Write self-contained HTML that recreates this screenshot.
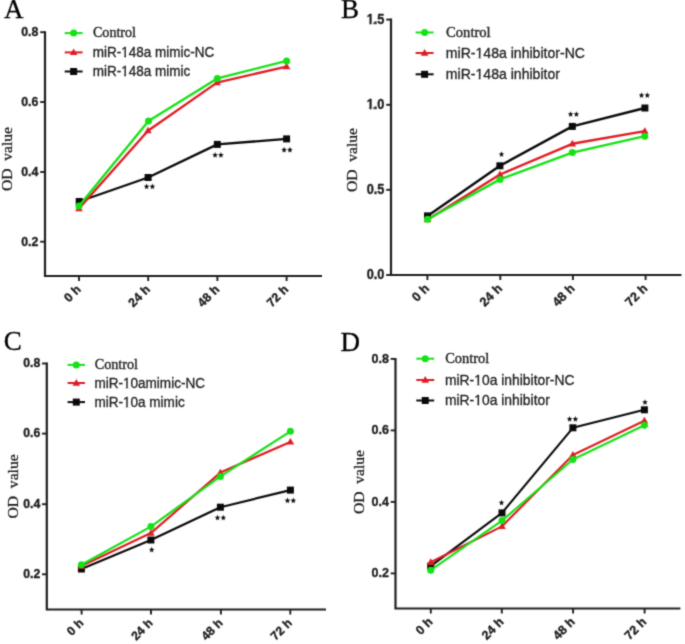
<!DOCTYPE html>
<html><head><meta charset="utf-8"><style>
html,body{margin:0;padding:0;background:#fff;}
svg{display:block;}
text{stroke-linejoin:round;}
.pl{font-family:"Liberation Serif",serif;font-size:27px;fill:#000;stroke:#000;stroke-width:0.3px;}
.ax{fill:none;stroke:#1e1e1e;stroke-width:2.2;}
.tk{fill:none;stroke:#1e1e1e;stroke-width:1.9;}
.yt,.xt{font-family:"Liberation Sans",sans-serif;font-weight:bold;font-size:12.2px;fill:#1e1e1e;stroke:#1e1e1e;stroke-width:0.35px;text-anchor:end;}
.od{font-family:"Liberation Serif",serif;font-size:15px;fill:#161616;stroke:#161616;stroke-width:0.25px;text-anchor:middle;}
.lc{font-family:"Liberation Serif",serif;fill:#262626;stroke:#262626;stroke-width:0.4px;}
.ls{font-family:"Liberation Sans",sans-serif;fill:#222;stroke:#222;stroke-width:0.3px;}
</style></head><body>
<svg width="685" height="644" viewBox="0 0 685 644">
<defs><filter id="bl" x="0" y="0" width="1" height="1" color-interpolation-filters="sRGB"><feConvolveMatrix order="3" kernelMatrix="0.02768 0.11101 0.02768 0.11101 0.44521 0.11101 0.02768 0.11101 0.02768" edgeMode="duplicate"/></filter></defs>
<rect width="685" height="644" fill="#fff"/>
<g filter="url(#bl)">
<rect width="685" height="644" fill="#fff"/>
<text x="3.9" y="18.4" class="pl">A</text>
<path d="M45 31.2V276H322" class="ax"/>
<path d="M40.2 32.2H45" class="tk"/>
<text transform="translate(38.4,36) scale(1,1.08)" class="yt" style="font-size:12.35px">0.8</text>
<path d="M40.2 102H45" class="tk"/>
<text transform="translate(38.4,105.8) scale(1,1.08)" class="yt" style="font-size:12.35px">0.6</text>
<path d="M40.2 172H45" class="tk"/>
<text transform="translate(38.4,175.8) scale(1,1.08)" class="yt" style="font-size:12.35px">0.4</text>
<path d="M40.2 241.7H45" class="tk"/>
<text transform="translate(38.4,245.5) scale(1,1.08)" class="yt" style="font-size:12.35px">0.2</text>
<path d="M79 276V281" class="tk"/>
<text transform="translate(81.6,290.2) scale(1,1.0) rotate(-45)" class="xt" style="font-size:12.35px">0 h</text>
<path d="M148.2 276V281" class="tk"/>
<text transform="translate(150.8,290.2) scale(1,1.0) rotate(-45)" class="xt" style="font-size:12.35px">24 h</text>
<path d="M217.4 276V281" class="tk"/>
<text transform="translate(220,290.2) scale(1,1.0) rotate(-45)" class="xt" style="font-size:12.35px">48 h</text>
<path d="M286.6 276V281" class="tk"/>
<text transform="translate(289.2,290.2) scale(1,1.0) rotate(-45)" class="xt" style="font-size:12.35px">72 h</text>
<text transform="translate(12.2,159) scale(1,1.04) rotate(-90)" class="od">OD&#160;&#160;value</text>
<path d="M79.2 201.5 L148.1 177.5 L217.3 144.4 L286.6 138.9" fill="none" stroke="#0a0a0a" stroke-width="2.35" stroke-linejoin="round"/>
<rect x="75.7" y="198" width="7" height="7" fill="#0a0a0a"/>
<rect x="144.6" y="174" width="7" height="7" fill="#0a0a0a"/>
<rect x="213.8" y="140.9" width="7" height="7" fill="#0a0a0a"/>
<rect x="283.1" y="135.4" width="7" height="7" fill="#0a0a0a"/>
<path d="M79 208.5 L148 130.7 L217 82.6 L286.6 66.6" fill="none" stroke="#e01c24" stroke-width="2.35" stroke-linejoin="round"/>
<polygon points="79,204.53 82.8,211.14 75.2,211.14" fill="#e01c24"/>
<polygon points="148,126.73 151.8,133.34 144.2,133.34" fill="#e01c24"/>
<polygon points="217,78.63 220.8,85.24 213.2,85.24" fill="#e01c24"/>
<polygon points="286.6,62.63 290.4,69.24 282.8,69.24" fill="#e01c24"/>
<path d="M79 206 L148.5 121 L217.3 78.4 L286.6 60.9" fill="none" stroke="#14e214" stroke-width="2.35" stroke-linejoin="round"/>
<ellipse cx="79" cy="206" rx="3.5" ry="3.5" fill="#14e214"/>
<ellipse cx="148.5" cy="121" rx="3.5" ry="3.5" fill="#14e214"/>
<ellipse cx="217.3" cy="78.4" rx="3.5" ry="3.5" fill="#14e214"/>
<ellipse cx="286.6" cy="60.9" rx="3.5" ry="3.5" fill="#14e214"/>
<polygon points="146.6,183.57 147.36,185.56 149.36,185.73 147.84,187.13 148.3,189.23 146.6,188.1 144.9,189.23 145.36,187.13 143.84,185.73 145.84,185.56" fill="#111"/>
<polygon points="152.4,183.57 153.16,185.56 155.16,185.73 153.64,187.13 154.1,189.23 152.4,188.1 150.7,189.23 151.16,187.13 149.64,185.73 151.64,185.56" fill="#111"/>
<polygon points="215.1,152.07 215.86,154.06 217.86,154.23 216.34,155.63 216.8,157.73 215.1,156.6 213.4,157.73 213.86,155.63 212.34,154.23 214.34,154.06" fill="#111"/>
<polygon points="220.9,152.07 221.66,154.06 223.66,154.23 222.14,155.63 222.6,157.73 220.9,156.6 219.2,157.73 219.66,155.63 218.14,154.23 220.14,154.06" fill="#111"/>
<polygon points="284.1,146.87 284.86,148.86 286.86,149.03 285.34,150.43 285.8,152.53 284.1,151.4 282.4,152.53 282.86,150.43 281.34,149.03 283.34,148.86" fill="#111"/>
<polygon points="289.9,146.87 290.66,148.86 292.66,149.03 291.14,150.43 291.6,152.53 289.9,151.4 288.2,152.53 288.66,150.43 287.14,149.03 289.14,148.86" fill="#111"/>
<path d="M64.7 33.1H82.6" stroke="#14e214" stroke-width="2"/>
<ellipse cx="73.65" cy="33.1" rx="3.5" ry="3.5" fill="#14e214"/>
<text transform="translate(93,37.4) scale(1,1.04)" class="lc" style="font-size:14.05px">Control</text>
<path d="M64.7 52.4H82.6" stroke="#e01c24" stroke-width="2"/>
<polygon points="73.65,48.43 77.45,55.04 69.85,55.04" fill="#e01c24"/>
<text transform="translate(92.7,56.9) scale(1,1.08)" class="ls" style="font-size:13.5px">miR-148a mimic-NC</text>
<rect transform="translate(92.7,56.9) scale(1,1.08)" x="28.49" y="-1.62" width="3.07" height="2.62" fill="#fff"/><rect transform="translate(92.7,56.9) scale(1,1.08)" x="33.3" y="-1.62" width="2.94" height="2.62" fill="#fff"/>
<path d="M64.7 71.5H82.6" stroke="#0a0a0a" stroke-width="2"/>
<rect x="70.15" y="68" width="7" height="7" fill="#0a0a0a"/>
<text transform="translate(92.7,76) scale(1,1.08)" class="ls" style="font-size:13.5px">miR-148a mimic</text>
<rect transform="translate(92.7,76) scale(1,1.08)" x="28.49" y="-1.62" width="3.07" height="2.62" fill="#fff"/><rect transform="translate(92.7,76) scale(1,1.08)" x="33.3" y="-1.62" width="2.94" height="2.62" fill="#fff"/>
<text x="341.1" y="18.0" class="pl">B</text>
<path d="M391 18.6V275H681.5" class="ax"/>
<path d="M386.2 19.6H391" class="tk"/>
<text transform="translate(384.4,23.9) scale(1,1.08)" class="yt" style="font-size:12.75px">1.5</text>
<rect transform="translate(384.4,23.9) scale(1,1.08)" x="-17.88" y="-1.78" width="2.87" height="2.78" fill="#fff"/><rect transform="translate(384.4,23.9) scale(1,1.08)" x="-12.78" y="-1.78" width="1.43" height="2.78" fill="#fff"/>
<path d="M386.2 104.8H391" class="tk"/>
<text transform="translate(384.4,109.1) scale(1,1.08)" class="yt" style="font-size:12.75px">1.0</text>
<rect transform="translate(384.4,109.1) scale(1,1.08)" x="-17.88" y="-1.78" width="2.87" height="2.78" fill="#fff"/><rect transform="translate(384.4,109.1) scale(1,1.08)" x="-12.78" y="-1.78" width="1.43" height="2.78" fill="#fff"/>
<path d="M386.2 189.8H391" class="tk"/>
<text transform="translate(384.4,194.1) scale(1,1.08)" class="yt" style="font-size:12.75px">0.5</text>
<path d="M386.2 275H391" class="tk"/>
<text transform="translate(384.4,279.3) scale(1,1.08)" class="yt" style="font-size:12.75px">0.0</text>
<path d="M427.4 275V280" class="tk"/>
<text transform="translate(430,289.2) scale(1,1.0) rotate(-45)" class="xt" style="font-size:12.75px">0 h</text>
<path d="M500.3 275V280" class="tk"/>
<text transform="translate(502.9,289.2) scale(1,1.0) rotate(-45)" class="xt" style="font-size:12.75px">24 h</text>
<path d="M572.9 275V280" class="tk"/>
<text transform="translate(575.5,289.2) scale(1,1.0) rotate(-45)" class="xt" style="font-size:12.75px">48 h</text>
<path d="M645.6 275V280" class="tk"/>
<text transform="translate(648.2,289.2) scale(1,1.0) rotate(-45)" class="xt" style="font-size:12.75px">72 h</text>
<text transform="translate(357.1,160) scale(1,1.04) rotate(-90)" class="od">OD&#160;&#160;value</text>
<path d="M427.5 215.9 L499.9 165.8 L572.3 126.4 L644.9 108" fill="none" stroke="#0a0a0a" stroke-width="2.4" stroke-linejoin="round"/>
<rect x="424" y="212.4" width="7" height="7" fill="#0a0a0a"/>
<rect x="496.4" y="162.3" width="7" height="7" fill="#0a0a0a"/>
<rect x="568.8" y="122.9" width="7" height="7" fill="#0a0a0a"/>
<rect x="641.4" y="104.5" width="7" height="7" fill="#0a0a0a"/>
<path d="M427.5 219.7 L500 174.5 L572.3 143.8 L644.8 131.1" fill="none" stroke="#e01c24" stroke-width="2.4" stroke-linejoin="round"/>
<polygon points="427.5,215.73 431.3,222.34 423.7,222.34" fill="#e01c24"/>
<polygon points="500,170.53 503.8,177.14 496.2,177.14" fill="#e01c24"/>
<polygon points="572.3,139.83 576.1,146.44 568.5,146.44" fill="#e01c24"/>
<polygon points="644.8,127.13 648.6,133.74 641,133.74" fill="#e01c24"/>
<path d="M427.5 219.2 L500 179.4 L572.3 152.6 L644.8 136.2" fill="none" stroke="#14e214" stroke-width="2.4" stroke-linejoin="round"/>
<ellipse cx="427.5" cy="219.2" rx="3.5" ry="3.5" fill="#14e214"/>
<ellipse cx="500" cy="179.4" rx="3.5" ry="3.5" fill="#14e214"/>
<ellipse cx="572.3" cy="152.6" rx="3.5" ry="3.5" fill="#14e214"/>
<ellipse cx="644.8" cy="136.2" rx="3.5" ry="3.5" fill="#14e214"/>
<polygon points="501.5,151.27 502.26,153.26 504.26,153.43 502.74,154.83 503.2,156.93 501.5,155.8 499.8,156.93 500.26,154.83 498.74,153.43 500.74,153.26" fill="#111"/>
<polygon points="570.6,111.17 571.36,113.16 573.36,113.33 571.84,114.73 572.3,116.83 570.6,115.7 568.9,116.83 569.36,114.73 567.84,113.33 569.84,113.16" fill="#111"/>
<polygon points="576.4,111.17 577.16,113.16 579.16,113.33 577.64,114.73 578.1,116.83 576.4,115.7 574.7,116.83 575.16,114.73 573.64,113.33 575.64,113.16" fill="#111"/>
<polygon points="641.5,92.27 642.26,94.26 644.26,94.43 642.74,95.83 643.2,97.93 641.5,96.8 639.8,97.93 640.26,95.83 638.74,94.43 640.74,94.26" fill="#111"/>
<polygon points="647.3,92.27 648.06,94.26 650.06,94.43 648.54,95.83 649,97.93 647.3,96.8 645.6,97.93 646.06,95.83 644.54,94.43 646.54,94.26" fill="#111"/>
<path d="M415.6 32.5H433.6" stroke="#14e214" stroke-width="2"/>
<ellipse cx="424.6" cy="32.5" rx="3.5" ry="3.5" fill="#14e214"/>
<text transform="translate(446.1,36.8) scale(1,1.04)" class="lc" style="font-size:14.6px">Control</text>
<path d="M415.6 53H433.6" stroke="#e01c24" stroke-width="2"/>
<polygon points="424.6,49.03 428.4,55.64 420.8,55.64" fill="#e01c24"/>
<text transform="translate(445.8,57.5) scale(1,1.08)" class="ls" style="font-size:14.08px">miR-148a inhibitor-NC</text>
<rect transform="translate(445.8,57.5) scale(1,1.08)" x="29.75" y="-1.69" width="3.19" height="2.69" fill="#fff"/><rect transform="translate(445.8,57.5) scale(1,1.08)" x="34.72" y="-1.69" width="3.04" height="2.69" fill="#fff"/>
<path d="M415.6 74.3H433.6" stroke="#0a0a0a" stroke-width="2"/>
<rect x="421.1" y="70.8" width="7" height="7" fill="#0a0a0a"/>
<text transform="translate(445.8,78.8) scale(1,1.08)" class="ls" style="font-size:14.08px">miR-148a inhibitor</text>
<rect transform="translate(445.8,78.8) scale(1,1.08)" x="29.75" y="-1.69" width="3.19" height="2.69" fill="#fff"/><rect transform="translate(445.8,78.8) scale(1,1.08)" x="34.72" y="-1.69" width="3.04" height="2.69" fill="#fff"/>
<text x="3.7" y="350.3" class="pl">C</text>
<path d="M46.8 362.5V609.5H326" class="ax"/>
<path d="M42 363.5H46.8" class="tk"/>
<text transform="translate(40.2,367.3) scale(1,1.08)" class="yt" style="font-size:12.26px">0.8</text>
<path d="M42 433.6H46.8" class="tk"/>
<text transform="translate(40.2,437.4) scale(1,1.08)" class="yt" style="font-size:12.26px">0.6</text>
<path d="M42 504.2H46.8" class="tk"/>
<text transform="translate(40.2,508) scale(1,1.08)" class="yt" style="font-size:12.26px">0.4</text>
<path d="M42 574.3H46.8" class="tk"/>
<text transform="translate(40.2,578.1) scale(1,1.08)" class="yt" style="font-size:12.26px">0.2</text>
<path d="M81.6 609.5V614.5" class="tk"/>
<text transform="translate(84.2,623.7) scale(1,1.0) rotate(-45)" class="xt" style="font-size:12.26px">0 h</text>
<path d="M151 609.5V614.5" class="tk"/>
<text transform="translate(153.6,623.7) scale(1,1.0) rotate(-45)" class="xt" style="font-size:12.26px">24 h</text>
<path d="M220.9 609.5V614.5" class="tk"/>
<text transform="translate(223.5,623.7) scale(1,1.0) rotate(-45)" class="xt" style="font-size:12.26px">48 h</text>
<path d="M290.3 609.5V614.5" class="tk"/>
<text transform="translate(292.9,623.7) scale(1,1.0) rotate(-45)" class="xt" style="font-size:12.26px">72 h</text>
<text transform="translate(17.8,486.4) scale(1,1.04) rotate(-90)" class="od">OD&#160;&#160;value</text>
<path d="M81.4 569 L150.9 540 L220.4 507.2 L290.4 490.1" fill="none" stroke="#0a0a0a" stroke-width="2.2" stroke-linejoin="round"/>
<rect x="77.9" y="565.5" width="7" height="7" fill="#0a0a0a"/>
<rect x="147.4" y="536.5" width="7" height="7" fill="#0a0a0a"/>
<rect x="216.9" y="503.7" width="7" height="7" fill="#0a0a0a"/>
<rect x="286.9" y="486.6" width="7" height="7" fill="#0a0a0a"/>
<path d="M81.4 566 L150.9 533.1 L220.4 472.6 L290.4 441.9" fill="none" stroke="#e01c24" stroke-width="2.2" stroke-linejoin="round"/>
<polygon points="81.4,562.03 85.2,568.64 77.6,568.64" fill="#e01c24"/>
<polygon points="150.9,529.13 154.7,535.74 147.1,535.74" fill="#e01c24"/>
<polygon points="220.4,468.63 224.2,475.24 216.6,475.24" fill="#e01c24"/>
<polygon points="290.4,437.93 294.2,444.54 286.6,444.54" fill="#e01c24"/>
<path d="M81.4 564.8 L150.9 526.6 L220.4 476.4 L290.4 431.3" fill="none" stroke="#14e214" stroke-width="2.2" stroke-linejoin="round"/>
<ellipse cx="81.4" cy="564.8" rx="3.5" ry="3.5" fill="#14e214"/>
<ellipse cx="150.9" cy="526.6" rx="3.5" ry="3.5" fill="#14e214"/>
<ellipse cx="220.4" cy="476.4" rx="3.5" ry="3.5" fill="#14e214"/>
<ellipse cx="290.4" cy="431.3" rx="3.5" ry="3.5" fill="#14e214"/>
<polygon points="151.7,546.77 152.46,548.76 154.46,548.93 152.94,550.33 153.4,552.43 151.7,551.3 150,552.43 150.46,550.33 148.94,548.93 150.94,548.76" fill="#111"/>
<polygon points="217.5,514.67 218.26,516.66 220.26,516.83 218.74,518.23 219.2,520.33 217.5,519.2 215.8,520.33 216.26,518.23 214.74,516.83 216.74,516.66" fill="#111"/>
<polygon points="223.3,514.67 224.06,516.66 226.06,516.83 224.54,518.23 225,520.33 223.3,519.2 221.6,520.33 222.06,518.23 220.54,516.83 222.54,516.66" fill="#111"/>
<polygon points="287.5,497.57 288.26,499.56 290.26,499.73 288.74,501.13 289.2,503.23 287.5,502.1 285.8,503.23 286.26,501.13 284.74,499.73 286.74,499.56" fill="#111"/>
<polygon points="293.3,497.57 294.06,499.56 296.06,499.73 294.54,501.13 295,503.23 293.3,502.1 291.6,503.23 292.06,501.13 290.54,499.73 292.54,499.56" fill="#111"/>
<path d="M67.6 364.9H85" stroke="#14e214" stroke-width="2"/>
<ellipse cx="76.3" cy="364.9" rx="3.5" ry="3.5" fill="#14e214"/>
<text transform="translate(94.7,369.2) scale(1,1.04)" class="lc" style="font-size:14.2px">Control</text>
<path d="M67.6 383H85" stroke="#e01c24" stroke-width="2"/>
<polygon points="76.3,379.03 80.1,385.64 72.5,385.64" fill="#e01c24"/>
<text transform="translate(94.4,387.5) scale(1,1.08)" class="ls" style="font-size:13.55px">miR-10amimic-NC</text>
<rect transform="translate(94.4,387.5) scale(1,1.08)" x="28.6" y="-1.63" width="3.08" height="2.63" fill="#fff"/><rect transform="translate(94.4,387.5) scale(1,1.08)" x="33.42" y="-1.63" width="2.95" height="2.63" fill="#fff"/>
<path d="M67.6 402.1H85" stroke="#0a0a0a" stroke-width="2"/>
<rect x="72.8" y="398.6" width="7" height="7" fill="#0a0a0a"/>
<text transform="translate(94.4,406.6) scale(1,1.08)" class="ls" style="font-size:13.55px">miR-10a mimic</text>
<rect transform="translate(94.4,406.6) scale(1,1.08)" x="28.6" y="-1.63" width="3.08" height="2.63" fill="#fff"/><rect transform="translate(94.4,406.6) scale(1,1.08)" x="33.42" y="-1.63" width="2.95" height="2.63" fill="#fff"/>
<text x="340.5" y="350.8" class="pl">D</text>
<path d="M395.5 357.9V608.5H680.4" class="ax"/>
<path d="M390.7 358.9H395.5" class="tk"/>
<text transform="translate(388.9,362.7) scale(1,1.08)" class="yt" style="font-size:12.5px">0.8</text>
<path d="M390.7 430.4H395.5" class="tk"/>
<text transform="translate(388.9,434.2) scale(1,1.08)" class="yt" style="font-size:12.5px">0.6</text>
<path d="M390.7 501.9H395.5" class="tk"/>
<text transform="translate(388.9,505.7) scale(1,1.08)" class="yt" style="font-size:12.5px">0.4</text>
<path d="M390.7 573.4H395.5" class="tk"/>
<text transform="translate(388.9,577.2) scale(1,1.08)" class="yt" style="font-size:12.5px">0.2</text>
<path d="M430.8 608.5V613.5" class="tk"/>
<text transform="translate(433.4,622.7) scale(1,1.0) rotate(-45)" class="xt" style="font-size:12.5px">0 h</text>
<path d="M501.8 608.5V613.5" class="tk"/>
<text transform="translate(504.4,622.7) scale(1,1.0) rotate(-45)" class="xt" style="font-size:12.5px">24 h</text>
<path d="M573.1 608.5V613.5" class="tk"/>
<text transform="translate(575.7,622.7) scale(1,1.0) rotate(-45)" class="xt" style="font-size:12.5px">48 h</text>
<path d="M644.6 608.5V613.5" class="tk"/>
<text transform="translate(647.2,622.7) scale(1,1.0) rotate(-45)" class="xt" style="font-size:12.5px">72 h</text>
<text transform="translate(363.8,482) scale(1,1.04) rotate(-90)" class="od">OD&#160;&#160;value</text>
<path d="M430.7 566.2 L502 512.9 L572.9 427.8 L644.4 409.8" fill="none" stroke="#0a0a0a" stroke-width="2.1" stroke-linejoin="round"/>
<rect x="427.2" y="562.7" width="7" height="7" fill="#0a0a0a"/>
<rect x="498.5" y="509.4" width="7" height="7" fill="#0a0a0a"/>
<rect x="569.4" y="424.3" width="7" height="7" fill="#0a0a0a"/>
<rect x="640.9" y="406.3" width="7" height="7" fill="#0a0a0a"/>
<path d="M430.7 562.3 L502 526.4 L572.9 455 L644.4 420.7" fill="none" stroke="#e01c24" stroke-width="2.1" stroke-linejoin="round"/>
<polygon points="430.7,558.33 434.5,564.94 426.9,564.94" fill="#e01c24"/>
<polygon points="502,522.43 505.8,529.04 498.2,529.04" fill="#e01c24"/>
<polygon points="572.9,451.03 576.7,457.64 569.1,457.64" fill="#e01c24"/>
<polygon points="644.4,416.73 648.2,423.34 640.6,423.34" fill="#e01c24"/>
<path d="M430.7 570.2 L502 520.6 L572.9 459.5 L644.4 425.2" fill="none" stroke="#14e214" stroke-width="2.1" stroke-linejoin="round"/>
<ellipse cx="430.7" cy="570.2" rx="3.5" ry="3.5" fill="#14e214"/>
<ellipse cx="502" cy="520.6" rx="3.5" ry="3.5" fill="#14e214"/>
<ellipse cx="572.9" cy="459.5" rx="3.5" ry="3.5" fill="#14e214"/>
<ellipse cx="644.4" cy="425.2" rx="3.5" ry="3.5" fill="#14e214"/>
<polygon points="501.5,499.67 502.26,501.66 504.26,501.83 502.74,503.23 503.2,505.33 501.5,504.2 499.8,505.33 500.26,503.23 498.74,501.83 500.74,501.66" fill="#111"/>
<polygon points="569.6,416.07 570.36,418.06 572.36,418.23 570.84,419.63 571.3,421.73 569.6,420.6 567.9,421.73 568.36,419.63 566.84,418.23 568.84,418.06" fill="#111"/>
<polygon points="575.4,416.07 576.16,418.06 578.16,418.23 576.64,419.63 577.1,421.73 575.4,420.6 573.7,421.73 574.16,419.63 572.64,418.23 574.64,418.06" fill="#111"/>
<polygon points="645,399.17 645.76,401.16 647.76,401.33 646.24,402.73 646.7,404.83 645,403.7 643.3,404.83 643.76,402.73 642.24,401.33 644.24,401.16" fill="#111"/>
<path d="M416.3 358.7H434.2" stroke="#14e214" stroke-width="2"/>
<ellipse cx="425.25" cy="358.7" rx="3.5" ry="3.5" fill="#14e214"/>
<text transform="translate(445.2,363) scale(1,1.04)" class="lc" style="font-size:14.45px">Control</text>
<path d="M416.3 380H434.2" stroke="#e01c24" stroke-width="2"/>
<polygon points="425.25,376.03 429.05,382.64 421.45,382.64" fill="#e01c24"/>
<text transform="translate(444.9,384.5) scale(1,1.08)" class="ls" style="font-size:13.9px">miR-10a inhibitor-NC</text>
<rect transform="translate(444.9,384.5) scale(1,1.08)" x="29.36" y="-1.67" width="3.15" height="2.67" fill="#fff"/><rect transform="translate(444.9,384.5) scale(1,1.08)" x="34.28" y="-1.67" width="3.01" height="2.67" fill="#fff"/>
<path d="M416.3 400.5H434.2" stroke="#0a0a0a" stroke-width="2"/>
<rect x="421.75" y="397" width="7" height="7" fill="#0a0a0a"/>
<text transform="translate(444.9,405) scale(1,1.08)" class="ls" style="font-size:13.9px">miR-10a inhibitor</text>
<rect transform="translate(444.9,405) scale(1,1.08)" x="29.36" y="-1.67" width="3.15" height="2.67" fill="#fff"/><rect transform="translate(444.9,405) scale(1,1.08)" x="34.28" y="-1.67" width="3.01" height="2.67" fill="#fff"/>
</g>
</svg>
</body></html>
